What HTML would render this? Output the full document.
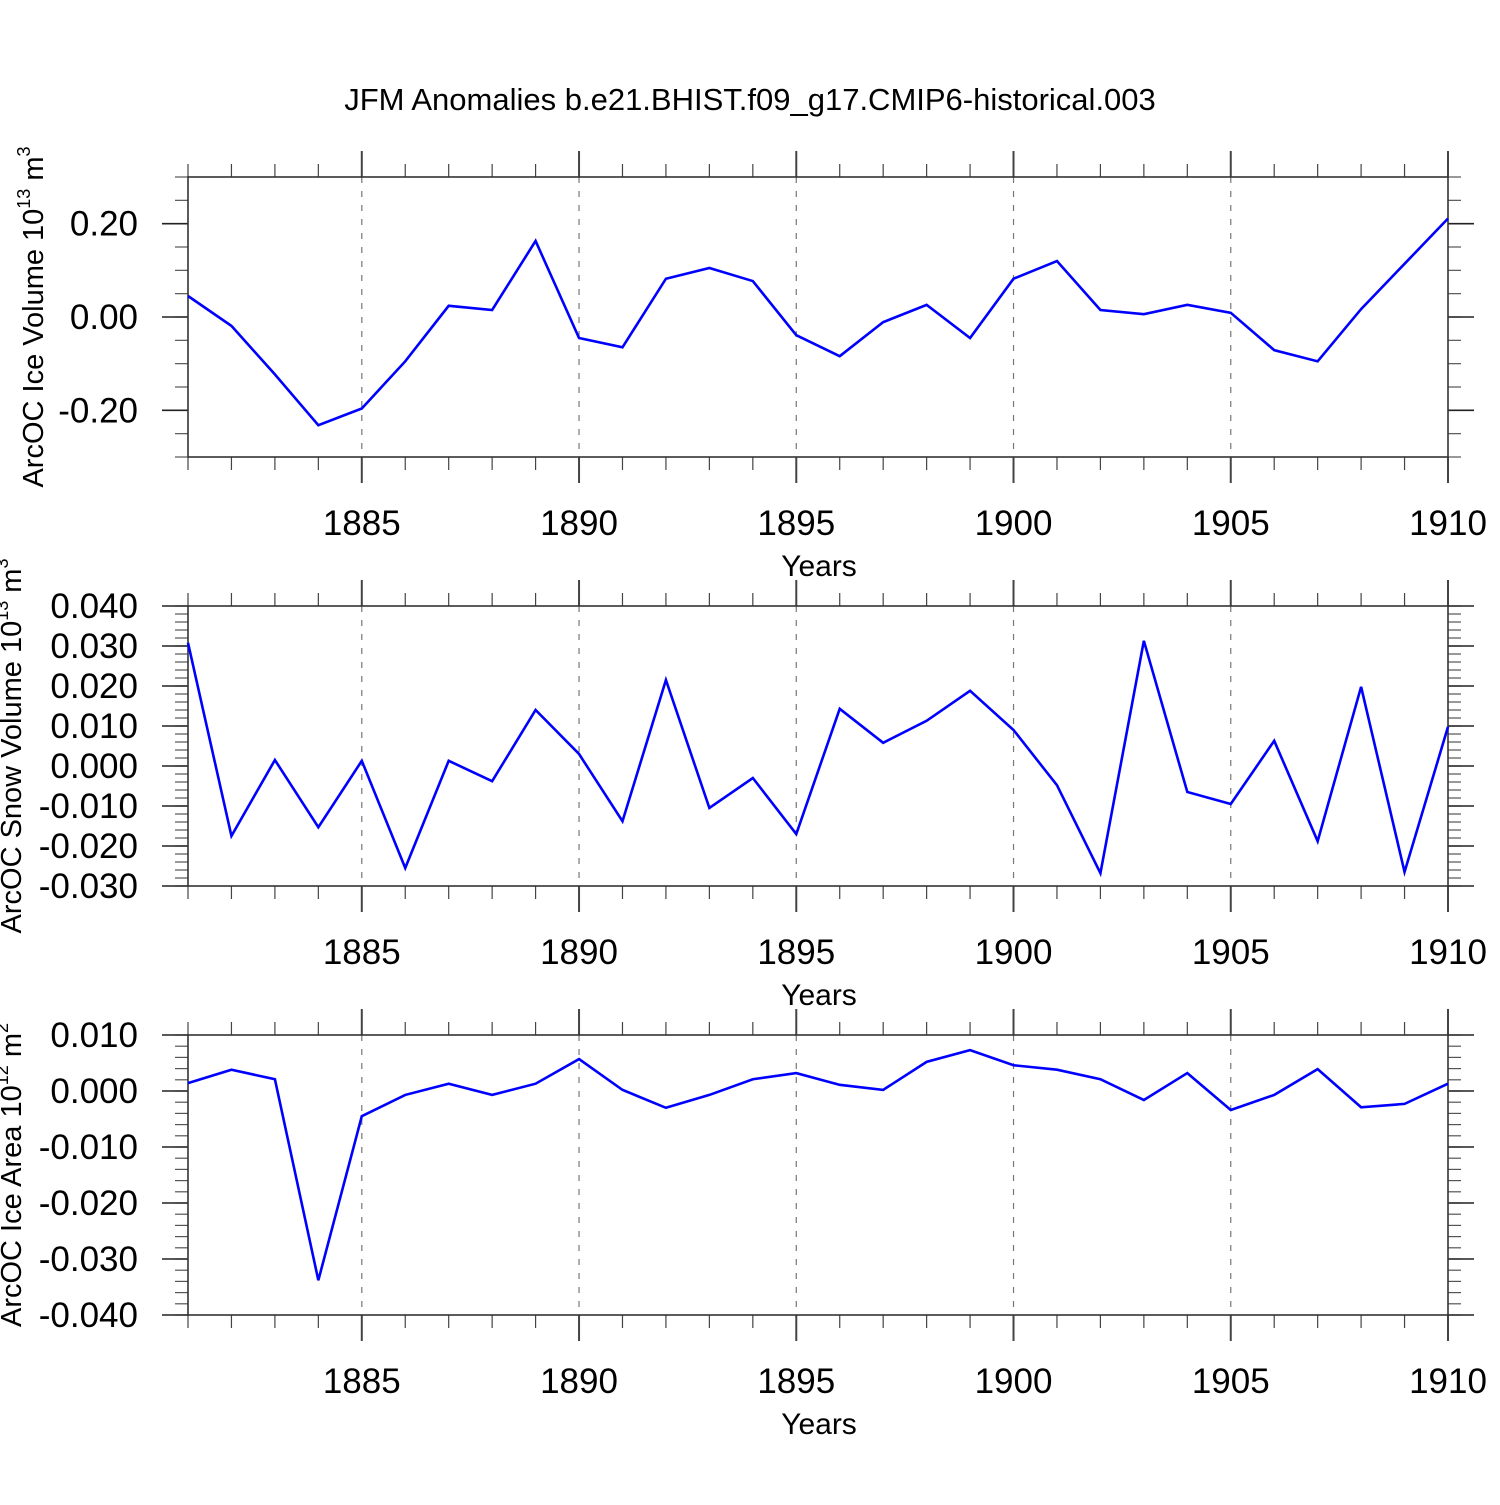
<!DOCTYPE html>
<html><head><meta charset="utf-8"><style>
body{margin:0;background:#fff;}
svg text{font-family:"Liberation Sans",sans-serif;fill:#000;}
</style></head><body>
<svg id="chart" width="1500" height="1500" xmlns="http://www.w3.org/2000/svg">
<rect width="1500" height="1500" fill="#fff"/>
<text x="750" y="110" font-size="31" text-anchor="middle">JFM Anomalies b.e21.BHIST.f09_g17.CMIP6-historical.003</text>
</svg>
<script>
const years = [1881,1882,1883,1884,1885,1886,1887,1888,1889,1890,1891,1892,1893,1894,1895,1896,1897,1898,1899,1900,1901,1902,1903,1904,1905,1906,1907,1908,1909,1910];
const iceVolume = [0.045,-0.019,-0.123,-0.232,-0.196,-0.095,0.024,0.015,0.163,-0.045,-0.065,0.082,0.105,0.077,-0.039,-0.084,-0.011,0.026,-0.045,0.082,0.120,0.015,0.006,0.026,0.009,-0.071,-0.095,0.017,0.114,0.211];
const snowVolume = [0.0308,-0.0175,0.0015,-0.0153,0.0013,-0.0255,0.0013,-0.0038,0.014,0.003,-0.0138,0.0215,-0.0105,-0.003,-0.017,0.0143,0.0058,0.0113,0.0188,0.009,-0.0048,-0.0268,0.0313,-0.0065,-0.0095,0.0063,-0.0188,0.0198,-0.0265,0.0098];
const iceArea = [0.0014,0.0038,0.0021,-0.0338,-0.0045,-0.0007,0.0013,-0.0007,0.0013,0.0057,0.0002,-0.003,-0.0007,0.0021,0.0032,0.0011,0.0002,0.0052,0.0073,0.0046,0.0038,0.0021,-0.0016,0.0032,-0.0034,-0.0007,0.0039,-0.0029,-0.0023,0.0013];
const xTickLabels = [1885,1890,1895,1900,1905,1910];
const iceVolTicks = [-0.2,0,0.2];
const snowTicks = [-0.03,-0.02,-0.01,0,0.01,0.02,0.03,0.04];
const areaTicks = [-0.04,-0.03,-0.02,-0.01,0,0.01];

const NS="http://www.w3.org/2000/svg";
const svg=document.getElementById('chart');
function mk(tag,attrs,parent){const e=document.createElementNS(NS,tag);for(const k in attrs)e.setAttribute(k,attrs[k]);(parent||svg).appendChild(e);return e;}
const X0=188,X1=1448,xmin=1881,xmax=1910;
const xs=v=>X0+(v-xmin)/(xmax-xmin)*(X1-X0);

function panel(name,top,ymin,ymax,vals,ticks,minorStep,dec,ylab,sup){
  const bot=top+280;
  const ys=v=>bot-(v-ymin)/(ymax-ymin)*280;
  const g=mk('g',{});
  
  
  for(const t of xTickLabels){ if(t>=1910) continue;
    const l=mk('line',{x1:xs(t),x2:xs(t),y1:top,y2:bot,stroke:'#777','stroke-width':1.2,'stroke-dasharray':'6,8'},g);
    
    
  }
  for(let y=xmin;y<=xmax;y++){
    const maj=xTickLabels.includes(y);
    const len=maj?26:13;
    mk('line',{x1:xs(y),x2:xs(y),y1:top,y2:top-len,stroke:'#444','stroke-width':maj?2:1.2},g);
    mk('line',{x1:xs(y),x2:xs(y),y1:bot,y2:bot+len,stroke:'#444','stroke-width':maj?2:1.2},g);
  }
  for(const t of xTickLabels){
    const tx=mk('text',{x:xs(t),y:bot+78,'font-size':35,'text-anchor':'middle'},g);
    tx.textContent=t;
    
    
  }
  const xt=mk('text',{x:819,y:bot+119,'font-size':30,'text-anchor':'middle'},g);
  xt.textContent='Years';
  
  
  const n=Math.round((ymax-ymin)/minorStep);
  for(let i=0;i<=n;i++){
    const v=ymin+i*minorStep;
    mk('line',{x1:X0,x2:X0-13,y1:ys(v),y2:ys(v),stroke:'#555','stroke-width':1.2},g);
    mk('line',{x1:X1,x2:X1+13,y1:ys(v),y2:ys(v),stroke:'#555','stroke-width':1.2},g);
  }
  for(const t of ticks){
    mk('line',{x1:X0,x2:X0-26,y1:ys(t),y2:ys(t),stroke:'#222','stroke-width':1.6},g);
    mk('line',{x1:X1,x2:X1+26,y1:ys(t),y2:ys(t),stroke:'#222','stroke-width':1.6},g);
    const tx=mk('text',{x:138,y:ys(t)+12,'font-size':35,'text-anchor':'end'},g);
    tx.textContent=t.toFixed(dec);
    
    
  }
  mk('rect',{x:X0,y:top,width:X1-X0,height:280,fill:'none',stroke:'#333','stroke-width':1.6},g);
  const pts=years.map((yr,i)=>xs(yr)+','+ys(vals[i])).join(' ');
  const pl=mk('polyline',{points:pts,fill:'none',stroke:'#0000ff','stroke-width':2.6,'stroke-linejoin':'miter'},g);
  
  
  const cy=top+140;
  const yt=mk('text',{x:0,y:0,'font-size':29,'text-anchor':'middle',transform:`translate(${ylab.x},${cy}) rotate(-90)`},g);
  yt.innerHTML=ylab.t+'<tspan font-size="18" dy="-13">'+sup+'</tspan><tspan dy="13"> m</tspan><tspan font-size="18" dy="-13">'+ylab.p+'</tspan>';
  
  
}
panel('ice-volume',177,-0.3,0.3,iceVolume,iceVolTicks,0.05,2,{x:43,t:'ArcOC Ice Volume 10',p:'3'},'13');
panel('snow-volume',606,-0.03,0.04,snowVolume,snowTicks,0.002,3,{x:21,t:'ArcOC Snow Volume 10',p:'3'},'13');
panel('ice-area',1035,-0.04,0.01,iceArea,areaTicks,0.002,3,{x:21,t:'ArcOC Ice Area 10',p:'2'},'12');
</script>
</body></html>
